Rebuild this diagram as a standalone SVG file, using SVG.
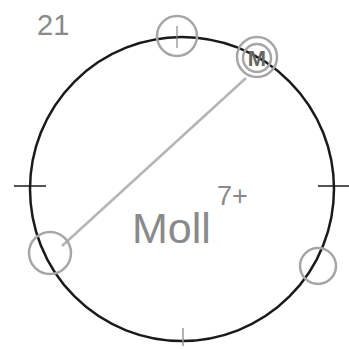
<svg xmlns="http://www.w3.org/2000/svg" width="349" height="349" viewBox="0 0 349 349">
<style>
.main{fill:none;stroke:#1a1a1a;stroke-width:2.5}
.tick{stroke:#1a1a1a;stroke-width:1.5}
.pc{fill:none;stroke:#a6a6a6;stroke-width:2.5}
.lbl{font-family:"Liberation Sans",sans-serif;fill:#8a8a8a}
.mk{font-family:"Liberation Sans",sans-serif;fill:#666666}
</style>
<rect width="349" height="349" fill="#ffffff"/>
<text class="lbl" x="37" y="35" font-size="29">21</text>
<g id="circle">
<circle class="main" cx="182" cy="189" r="152"/>
<line class="tick" x1="14" y1="186" x2="46" y2="186"/>
<line class="tick" x1="318" y1="186" x2="349" y2="186"/>
<line x1="183" y1="328" x2="183" y2="346" stroke="#999" stroke-width="1.5"/>
<line x1="177" y1="26" x2="177" y2="48" stroke="#888" stroke-width="1.2"/>
</g>
<g id="connectors">
<line x1="62" y1="246" x2="246" y2="78" stroke="#b5b5b5" stroke-width="2.5"/>
</g>
<g id="node-top"><circle class="pc" cx="177" cy="36" r="20"/></g>
<g id="node-M">
<circle class="pc" cx="257" cy="57" r="20"/>
<circle class="pc" cx="257" cy="58" r="14"/>
<text class="mk" x="257" y="66" font-size="22" font-weight="bold" text-anchor="middle">M</text>
</g>
<g id="node-left"><circle class="pc" cx="50" cy="253" r="21"/></g>
<g id="node-right"><circle class="pc" cx="318" cy="266" r="18" stroke="#bbb" stroke-width="2"/></g>
<text class="lbl" x="132" y="243" font-size="43">Moll</text>
<text class="lbl" x="217" y="205" font-size="27">7+</text>
</svg>
